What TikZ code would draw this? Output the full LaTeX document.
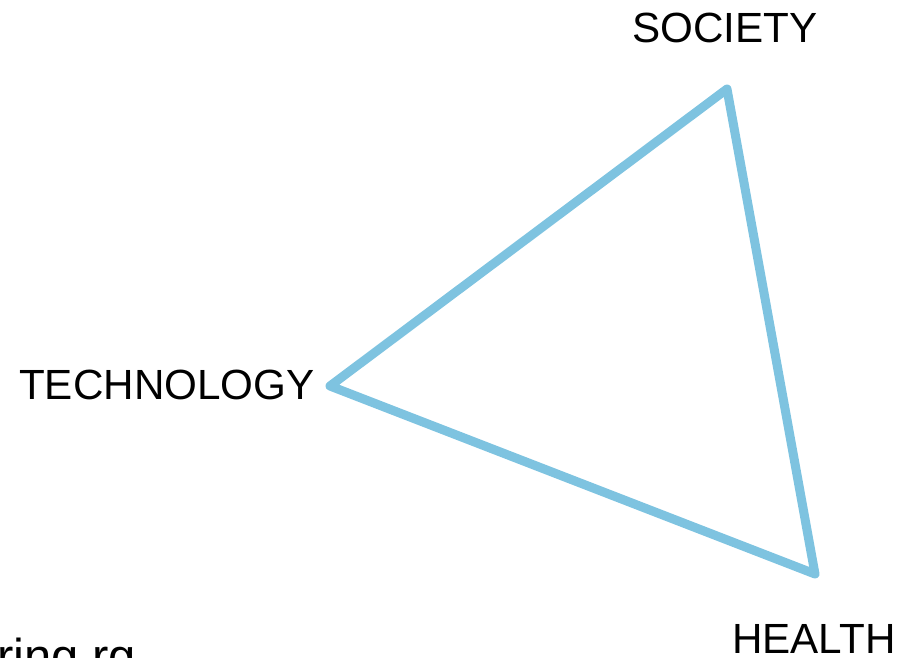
\documentclass[tikz,border=0pt]{standalone}
\usepackage{fontspec}
\setmainfont{Liberation Sans}
\usepackage{tikz}
\usetikzlibrary{positioning}
\definecolor{figblue}{HTML}{7EC3E0}
\tikzset{
  figlabel/.style={font=\fontsize{42.2}{50}\selectfont, text=black, inner sep=0pt, anchor=base west},
  figedge/.style={draw=figblue, line width=9pt, line join=round, line cap=round},
}

\begin{document}
\begin{tikzpicture}[x=1pt,y=-1pt]
  \useasboundingbox (0,0) rectangle (905,658);
  \clip (0,0) rectangle (905,658);
  % Ecken des Dreiecks
  \coordinate (soc) at (727,89);
  \coordinate (tech) at (330,386);
  \coordinate (hlth) at (815,574);
  \draw[figedge] (soc) -- (tech) -- (hlth) -- cycle;
  % Beschriftungen
  \node[figlabel] (society) at (632,43) {SOCIETY};
  \node[figlabel] (technology) at (19,399) {TECHNOLOGY};
  \node[figlabel] (health) at (732,653) {HEALTH};
  \node[figlabel, font=\fontsize{49}{58}\selectfont] (source) at (-3,673) {ring.rg};
\end{tikzpicture}
\end{document}
